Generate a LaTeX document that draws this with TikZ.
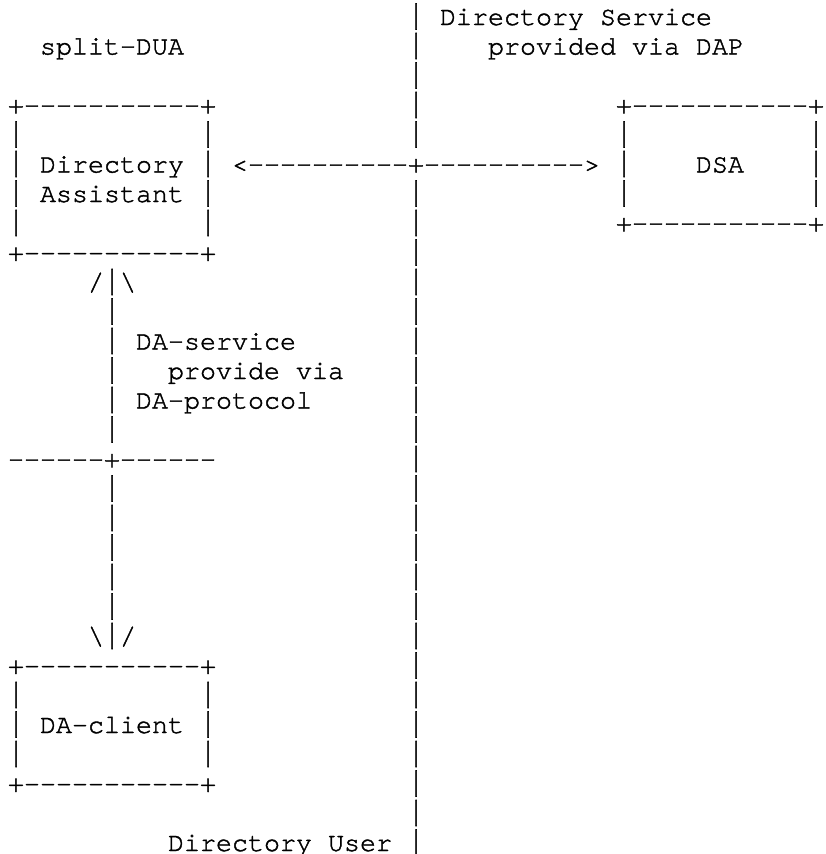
\documentclass[tikz,border=0pt]{standalone}
\usepackage{graphicx}
\usepackage{fontspec}
\setmonofont{TeX Gyre Cursor}[FakeBold=1.5]
\newsavebox\barbox
% a tall bar, as in the reference (top 21.5pt above, bottom 4.5pt below the baseline)
\newcommand\tbar{\sbox\barbox{|}\raisebox{-4.5pt}{\resizebox*{\wd\barbox}{26pt}{\raisebox{\depth}{\usebox\barbox}}}}
\begin{document}
\begin{tikzpicture}[x=16pt, y=-29.5pt,
  txt/.style={anchor=base west, inner sep=0pt, outer sep=0pt,
    font=\ttfamily\fontsize{26.67pt}{29.5pt}\selectfont}]
\useasboundingbox (-0.5,-0.8475) rectangle (51.125,28.1017);
% central divider (column 25)
\foreach \r in {0,...,4,6,7,...,28} {
  \node[txt] (v\r) at (25,\r) {\tbar};
}
% headings
\node[txt] (dstitle) at (27,0) {Directory Service};
\node[txt] (dsvia)   at (30,1) {provided via DAP};
\node[txt] (split)   at (2,1)  {split-DUA};
% Directory Assistant box
\node[txt] (datop) at (0,3) {+-----------+};
\node[txt] (dal4)  at (0,4) {\tbar};  \node[txt] (dar4) at (12,4) {\tbar};
\node[txt] (dal5)  at (0,5) {\tbar};  \node[txt] (dar5) at (12,5) {\tbar};
\node[txt] (dal6)  at (0,6) {\tbar};  \node[txt] (dar6) at (12,6) {\tbar};
\node[txt] (dal7)  at (0,7) {\tbar};  \node[txt] (dar7) at (12,7) {\tbar};
\node[txt] (dabot) at (0,8) {+-----------+};
\node[txt] (dalab1) at (2,5) {Directory};
\node[txt] (dalab2) at (2,6) {Assistant};
% DAP arrow
\node[txt] (dap) at (14,5) {<----------+---------->};
% DSA box
\node[txt] (dsatop) at (38,3) {+-----------+};
\node[txt] (dsal4) at (38,4) {\tbar}; \node[txt] (dsar4) at (50,4) {\tbar};
\node[txt] (dsal5) at (38,5) {\tbar}; \node[txt] (dsar5) at (50,5) {\tbar};
\node[txt] (dsal6) at (38,6) {\tbar}; \node[txt] (dsar6) at (50,6) {\tbar};
\node[txt] (dsabot) at (38,7) {+-----------+};
\node[txt] (dsalab) at (43,5) {DSA};
% DA-protocol link
\node[txt] (uparrow) at (5,9) {/\tbar\textbackslash};
\foreach \r in {10,...,14,16,17,...,20} {
  \node[txt] (p\r) at (6,\r) {\tbar};
}
\node[txt] (daserv) at (8,11)  {DA-service};
\node[txt] (daprov) at (10,12) {provide via};
\node[txt] (daprot) at (8,13)  {DA-protocol};
\node[txt] (cut)    at (0,15)  {------+------};
\node[txt] (downarrow) at (5,21) {\textbackslash\tbar/};
% DA-client box
\node[txt] (dctop) at (0,22) {+-----------+};
\node[txt] (dcl23) at (0,23) {\tbar}; \node[txt] (dcr23) at (12,23) {\tbar};
\node[txt] (dcl24) at (0,24) {\tbar}; \node[txt] (dcr24) at (12,24) {\tbar};
\node[txt] (dcl25) at (0,25) {\tbar}; \node[txt] (dcr25) at (12,25) {\tbar};
\node[txt] (dcbot) at (0,26) {+-----------+};
\node[txt] (dclab) at (2,24) {DA-client};
% bottom label
\node[txt] (duser) at (10,28) {Directory User};
\end{tikzpicture}
\end{document}
